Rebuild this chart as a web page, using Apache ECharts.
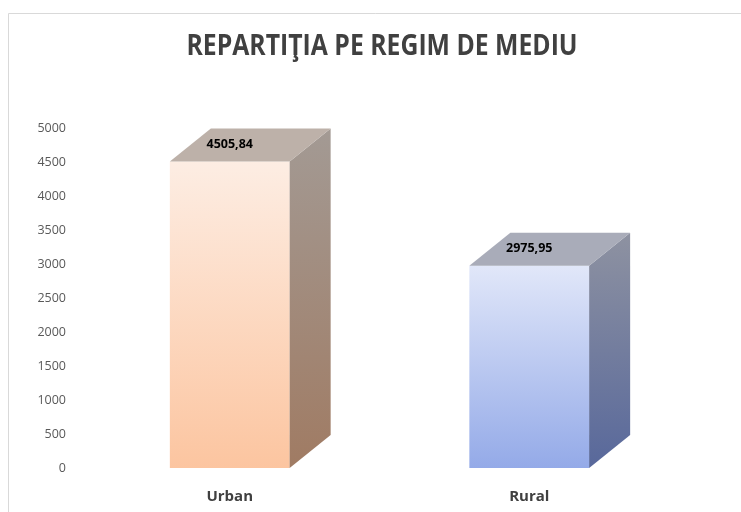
<!DOCTYPE html>
<html>
<head>
<meta charset="utf-8">
<script src="https://cdn.jsdelivr.net/npm/echarts@6/dist/echarts.min.js"></script>
<style>
html, body { margin: 0; padding: 0; background: #fff; }
#main { width: 741px; height: 512px; }
</style>
</head>
<body>
<div id="main"></div>
<script>
// date din grafic
var titlu = 'REPARTIŢIA PE REGIM DE MEDIU';
var categorii = ['Urban', 'Rural'];
var valori = [4505.84, 2975.95];
var eticheteValori = ['4505,84', '2975,95'];

// culori pentru fiecare bara: fata, lateral, sus
var culoriFata = [['#fdede3', '#fcc5a0'], ['#e1e7f9', '#94aae8']];
var culoriLateral = [['#a39a94', '#a07b63'], ['#8e92a1', '#58689b']];
var culoriSus = ['#bdb1a9', '#a9acb9'];

var font = "'Open Sans', sans-serif";

var myChart = echarts.init(document.getElementById('main'));

function grad(c) {
  return new echarts.graphic.LinearGradient(0, 0, 0, 1, [
    { offset: 0, color: c[0] },
    { offset: 1, color: c[1] }
  ]);
}

var option = {
  backgroundColor: '#fff',
  animation: false,
  graphic: [{
    type: 'rect',
    shape: { x: 8.5, y: 13.5, width: 800, height: 600 },
    style: { fill: 'none', stroke: '#d9d9d9', lineWidth: 1 },
    silent: true
  }, {
    // titlul, putin ingustat ca sa semene cu fontul original
    type: 'text',
    x: 382,
    y: 47,
    scaleX: 0.885,
    style: {
      text: titlu,
      align: 'center',
      verticalAlign: 'middle',
      fill: '#404040',
      font: 'bold 28px ' + font
    }
  }],
  grid: { left: 80, right: 62, top: 128, bottom: 44 },
  xAxis: {
    type: 'category',
    data: categorii,
    axisLine: { show: false },
    axisTick: { show: false },
    axisLabel: {
      margin: 21,
      color: '#404040',
      fontSize: 15,
      fontWeight: 'bold',
      fontFamily: font
    }
  },
  yAxis: {
    type: 'value',
    min: 0,
    max: 5000,
    interval: 500,
    splitLine: { show: false },
    axisLine: { show: false },
    axisTick: { show: false },
    axisLabel: {
      margin: 14,
      color: '#595959',
      fontSize: 12.5,
      fontFamily: font,
      formatter: function (v) { return String(v); }
    }
  },
  series: [{
    type: 'custom',
    data: valori.map(function (v, i) { return [i, v]; }),
    renderItem: function (params, api) {
      var i = api.value(0);
      var top = api.coord([i, api.value(1)]);
      var base = api.coord([i, 0]);
      var latime = api.size([1, 0])[0] * 0.4;
      var x0 = top[0] - latime / 2;
      var x1 = top[0] + latime / 2;
      var dx = 41, dy = -33;
      return {
        type: 'group',
        children: [
          {
            type: 'polygon',
            shape: { points: [[x0, top[1]], [x1, top[1]], [x1, base[1]], [x0, base[1]]] },
            style: { fill: grad(culoriFata[i]) }
          },
          {
            type: 'polygon',
            shape: { points: [[x1, top[1]], [x1 + dx, top[1] + dy], [x1 + dx, base[1] + dy], [x1, base[1]]] },
            style: { fill: grad(culoriLateral[i]) }
          },
          {
            type: 'polygon',
            shape: { points: [[x0, top[1]], [x0 + dx, top[1] + dy], [x1 + dx, top[1] + dy], [x1, top[1]]] },
            style: { fill: culoriSus[i] }
          },
          {
            type: 'text',
            x: top[0],
            y: top[1] - 17,
            style: {
              text: eticheteValori[i],
              align: 'center',
              verticalAlign: 'middle',
              fill: '#000',
              font: 'bold 12.5px ' + font
            }
          }
        ]
      };
    }
  }]
};

myChart.setOption(option);

window.onresize = function () {
  myChart.resize();
};
</script>
</body>
</html>
